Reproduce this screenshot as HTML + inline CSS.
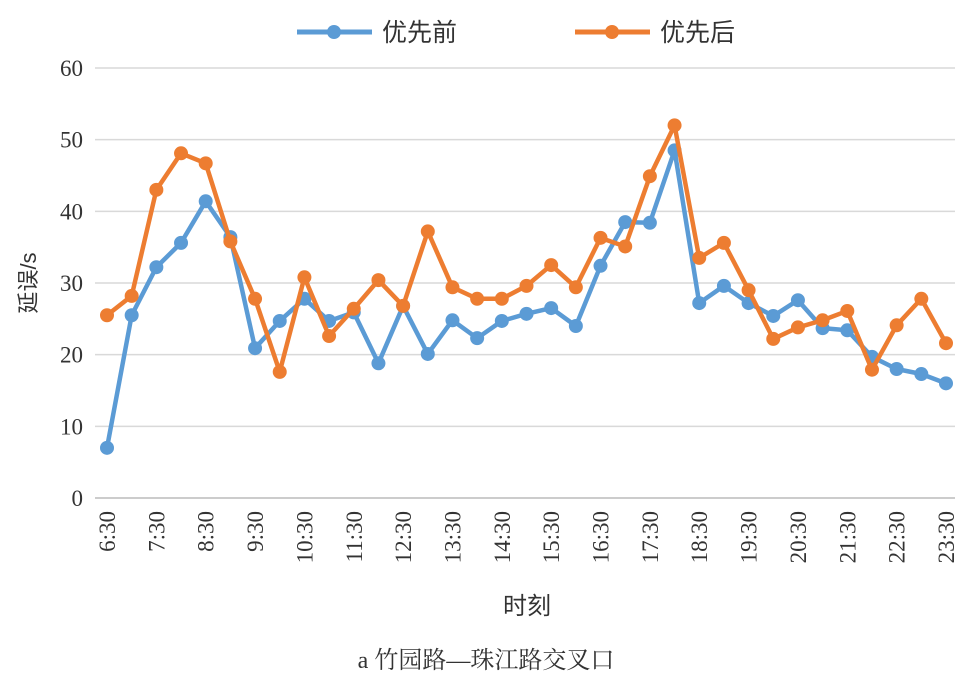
<!DOCTYPE html>
<html><head><meta charset="utf-8"><style>
body{margin:0;background:#fff;}
svg{display:block;font-family:"Liberation Serif","Noto Serif CJK SC",serif;}
</style></head><body>
<svg id="chart" width="972" height="680">
<g id="grid"></g>
<g id="ylabels"></g>
<g id="xlabels"></g>
<g id="series"></g>
<text x="36" y="283" font-size="22" text-anchor="middle" transform="rotate(-90 36 283)" font-family="'Liberation Sans','Noto Sans CJK SC',sans-serif" fill="#333">延误/s</text>
<text x="527" y="614" font-size="24" text-anchor="middle" font-family="'Liberation Sans','Noto Sans CJK SC',sans-serif" fill="#333">时刻</text>
<text x="486" y="668" font-size="24" text-anchor="middle" fill="#333">a 竹园路—珠江路交叉口</text>
<g>
<line x1="297" y1="32" x2="372" y2="32" stroke="#5b9bd5" stroke-width="5"/>
<circle cx="334" cy="32" r="7" fill="#5b9bd5"/>
<text x="382" y="41" font-size="25" fill="#333" font-family="'Liberation Sans','Noto Sans CJK SC',sans-serif">优先前</text></g>
<g>
<line x1="575" y1="32" x2="650" y2="32" stroke="#ed7d31" stroke-width="5"/>
<circle cx="612" cy="32" r="7" fill="#ed7d31"/>
<text x="660" y="41" font-size="25" fill="#333" font-family="'Liberation Sans','Noto Sans CJK SC',sans-serif">优先后</text></g>
</svg>
<script>
const categories=["6:30","7:00","7:30","8:00","8:30","9:00","9:30","10:00","10:30","11:00","11:30","12:00","12:30","13:00","13:30","14:00","14:30","15:00","15:30","16:00","16:30","17:00","17:30","18:00","18:30","19:00","19:30","20:00","20:30","21:00","21:30","22:00","22:30","23:00","23:30"];
const before=[7.0,25.5,32.2,35.6,41.4,36.4,20.9,24.7,27.8,24.7,25.9,18.8,26.8,20.1,24.8,22.3,24.7,25.7,26.5,24.0,32.4,38.5,38.4,48.5,27.2,29.6,27.2,25.4,27.6,23.7,23.4,19.7,18.0,17.3,16.0];
const after=[25.5,28.2,43.0,48.1,46.7,35.8,27.8,17.6,30.8,22.6,26.4,30.4,26.8,37.2,29.4,27.8,27.8,29.6,32.5,29.4,36.3,35.1,44.9,52.0,33.5,35.6,29.0,22.2,23.8,24.8,26.1,17.9,24.1,27.8,21.6];
const yTicks=[0,10,20,30,40,50,60];
const NS="http://www.w3.org/2000/svg";
const x0=107,x1=946,yB=498,yT=68,yMax=60;
function xs(i){return x0+(x1-x0)*i/(categories.length-1);}
function ys(v){return yB-(yB-yT)*v/yMax;}
function mk(t,a,p){const e=document.createElementNS(NS,t);for(const k in a)e.setAttribute(k,a[k]);p.appendChild(e);return e;}
const grid=document.getElementById('grid'),yl=document.getElementById('ylabels'),xl=document.getElementById('xlabels'),sg=document.getElementById('series');
yTicks.forEach(t=>{
 const l=mk('line',{x1:95,x2:955,y1:ys(t),y2:ys(t),stroke:t===0?'#bbb':'#d9d9d9','stroke-width':1.5},grid);
 
 
 const tx=mk('text',{x:83,y:ys(t)+8,'font-size':23,'text-anchor':'end',fill:'#333'},yl);
 tx.textContent=t;
 
 
});
categories.forEach((c,i)=>{
 if(i%2!==0)return;
 const x=xs(i)+8,y=511;
 const tx=mk('text',{x:x,y:y,'font-size':23,'text-anchor':'end',fill:'#333',transform:`rotate(-90 ${x} ${y})`},xl);
 tx.textContent=c;
 
 
});
function draw(data,color,name){
 const g=mk('g',{},sg);
 
 
 const pl=mk('polyline',{points:data.map((v,i)=>xs(i)+','+ys(v)).join(' '),fill:'none',stroke:color,'stroke-width':4.5,'stroke-linejoin':'round'},g);
 
 
 data.forEach((v,i)=>{
  const c=mk('circle',{cx:xs(i),cy:ys(v),r:7,fill:color},g);
  
  
 });
}
draw(before,'#5b9bd5','series-before');
draw(after,'#ed7d31','series-after');
</script>
</body></html>
